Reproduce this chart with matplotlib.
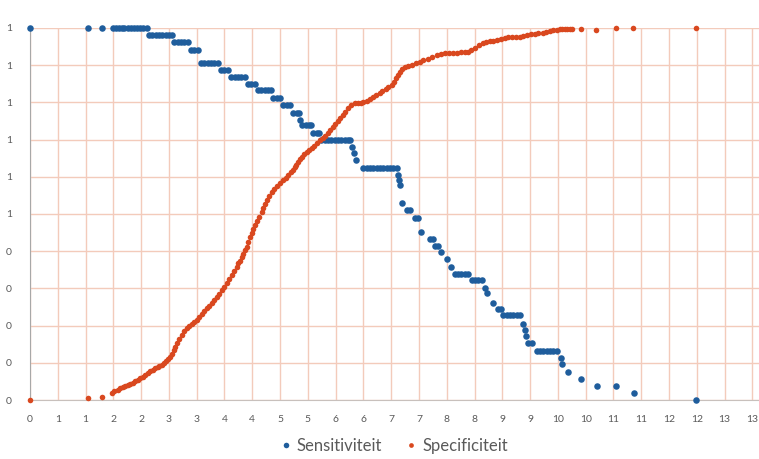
import math
import matplotlib
matplotlib.use("Agg")
import matplotlib.pyplot as plt
from matplotlib.ticker import MultipleLocator, FuncFormatter

# Sensitiviteit
sens_x = [0.0, 1.04, 1.29,
          1.49, 1.54, 1.60, 1.65, 1.70, 1.76, 1.82, 1.88, 1.93, 1.98, 2.04, 2.10,
          2.14, 2.20, 2.26, 2.32, 2.38, 2.44, 2.50, 2.56,
          2.60, 2.66, 2.72, 2.78, 2.84,
          2.90, 2.96, 3.02,
          3.08, 3.14, 3.20, 3.26, 3.32, 3.38,
          3.44, 3.50, 3.56,
          3.62, 3.68, 3.74, 3.80, 3.86,
          3.92, 3.98, 4.04,
          4.10, 4.16, 4.22, 4.28, 4.34,
          4.38, 4.44, 4.50,
          4.56, 4.62, 4.68,
          4.74, 4.80, 4.84,
          4.86,
          4.90, 4.96, 5.02, 5.06,
          5.10, 5.16, 5.20,
          5.24, 5.30, 5.36, 5.42, 5.48, 5.54, 5.60, 5.66, 5.72, 5.76,
          5.79, 5.83, 5.86,
          6.00, 6.06, 6.12, 6.18, 6.24, 6.30, 6.36, 6.42, 6.48, 6.54, 6.60,
          6.62, 6.64, 6.65, 6.69,
          6.78, 6.84, 6.92, 6.98, 7.03,
          7.19, 7.25, 7.29, 7.34, 7.39, 7.50, 7.57,
          7.64, 7.70, 7.76, 7.82, 7.88,
          7.95, 8.01, 8.07, 8.13,
          8.18, 8.22, 8.33, 8.42, 8.47,
          8.52, 8.58, 8.64, 8.70, 8.76, 8.81,
          8.88, 8.90, 8.92, 8.96, 9.03,
          9.12, 9.18, 9.24, 9.30, 9.36, 9.42, 9.48,
          9.55, 9.57, 9.68, 9.91, 10.20, 10.54, 10.86, 11.98]
sens_y = [1.0, 1.0, 1.0,
          1.0, 1.0, 1.0, 1.0, 1.0, 1.0, 1.0, 1.0, 1.0, 1.0, 1.0, 1.0,
          0.981, 0.981, 0.981, 0.981, 0.981, 0.981, 0.981, 0.981,
          0.962, 0.962, 0.962, 0.962, 0.962,
          0.941, 0.941, 0.941,
          0.906, 0.906, 0.906, 0.906, 0.906, 0.906,
          0.887, 0.887, 0.887,
          0.868, 0.868, 0.868, 0.868, 0.868,
          0.849, 0.849, 0.849,
          0.833, 0.833, 0.833, 0.833, 0.833,
          0.812, 0.812, 0.812,
          0.793, 0.793, 0.793,
          0.772, 0.772, 0.772,
          0.753,
          0.739, 0.739, 0.739, 0.739,
          0.718, 0.718, 0.718,
          0.699, 0.699, 0.699, 0.699, 0.699, 0.699, 0.699, 0.699, 0.699, 0.699,
          0.680, 0.664, 0.645,
          0.624, 0.624, 0.624, 0.624, 0.624, 0.624, 0.624, 0.624, 0.624, 0.624, 0.624,
          0.605, 0.591, 0.578, 0.530,
          0.511, 0.511, 0.489, 0.489, 0.452,
          0.433, 0.433, 0.414, 0.414, 0.398, 0.379, 0.358,
          0.339, 0.339, 0.339, 0.339, 0.339,
          0.323, 0.323, 0.323, 0.323,
          0.301, 0.288, 0.261, 0.245, 0.245,
          0.228, 0.228, 0.228, 0.228, 0.228, 0.228,
          0.204, 0.188, 0.172, 0.153, 0.153,
          0.132, 0.132, 0.132, 0.132, 0.132, 0.132, 0.132,
          0.113, 0.097, 0.075, 0.056, 0.038, 0.038, 0.019, 0.0]

# Specificiteit
spec_x = [0.00, 1.04, 1.29, 1.47, 1.52, 1.58, 1.62, 1.67, 1.71, 1.76, 1.80, 1.85,
          1.89, 1.94, 1.98, 2.03, 2.07, 2.12, 2.16, 2.21, 2.25, 2.30, 2.33, 2.37,
          2.41, 2.45, 2.48, 2.52, 2.55, 2.59, 2.61, 2.64, 2.68, 2.73, 2.77, 2.82,
          2.86, 2.91, 2.95, 3.00, 3.04, 3.09, 3.13, 3.18, 3.22, 3.27, 3.31, 3.36,
          3.40, 3.45, 3.49, 3.54, 3.58, 3.63, 3.67, 3.72, 3.75, 3.78, 3.81, 3.84,
          3.87, 3.90, 3.93, 3.96, 3.99, 4.02, 4.05, 4.08, 4.12, 4.17, 4.20, 4.23,
          4.26, 4.30, 4.35, 4.39, 4.44, 4.49, 4.55, 4.60, 4.64, 4.69, 4.73, 4.76,
          4.79, 4.82, 4.86, 4.89, 4.93, 4.98, 5.02, 5.07, 5.11, 5.16, 5.21, 5.27,
          5.31, 5.36, 5.40, 5.45, 5.49, 5.54, 5.58, 5.63, 5.67, 5.72, 5.78, 5.85,
          5.90, 5.95, 6.00, 6.06, 6.11, 6.17, 6.23, 6.29, 6.34, 6.40, 6.45, 6.51,
          6.55, 6.58, 6.62, 6.65, 6.69, 6.74, 6.80, 6.87, 6.94, 7.01, 7.08, 7.16,
          7.24, 7.32, 7.39, 7.46, 7.54, 7.61, 7.68, 7.75, 7.82, 7.88, 7.94, 8.00,
          8.08, 8.15, 8.21, 8.27, 8.33, 8.40, 8.47, 8.54, 8.60, 8.67, 8.74, 8.81,
          8.88, 8.94, 9.01, 9.08, 9.15, 9.23, 9.29, 9.35, 9.42, 9.48, 9.53, 9.57,
          9.62, 9.66, 9.71, 9.75, 9.91, 10.18, 10.54, 10.85, 11.98]
spec_y = [0.000, 0.005, 0.008, 0.019, 0.023, 0.027, 0.031, 0.035, 0.038, 0.040, 0.043, 0.046,
          0.050, 0.054, 0.058, 0.062, 0.067, 0.073, 0.077, 0.081, 0.085, 0.089, 0.091, 0.094,
          0.100, 0.105, 0.110, 0.116, 0.124, 0.134, 0.143, 0.153, 0.164, 0.175, 0.185, 0.194,
          0.199, 0.204, 0.209, 0.215, 0.223, 0.231, 0.239, 0.247, 0.254, 0.261, 0.269, 0.277,
          0.286, 0.296, 0.305, 0.315, 0.325, 0.336, 0.347, 0.358, 0.367, 0.375, 0.384, 0.393,
          0.402, 0.411, 0.424, 0.437, 0.449, 0.460, 0.471, 0.481, 0.493, 0.505, 0.516, 0.527,
          0.538, 0.549, 0.559, 0.567, 0.575, 0.583, 0.591, 0.598, 0.605, 0.612, 0.618, 0.625,
          0.633, 0.640, 0.647, 0.653, 0.660, 0.667, 0.672, 0.677, 0.684, 0.691, 0.698, 0.704,
          0.711, 0.718, 0.726, 0.734, 0.742, 0.750, 0.758, 0.766, 0.775, 0.785, 0.792, 0.798,
          0.798, 0.798, 0.801, 0.804, 0.810, 0.815, 0.820, 0.825, 0.831, 0.836, 0.841, 0.847,
          0.856, 0.866, 0.874, 0.882, 0.889, 0.895, 0.898, 0.901, 0.905, 0.909, 0.913, 0.917,
          0.922, 0.927, 0.930, 0.933, 0.933, 0.933, 0.934, 0.935, 0.935, 0.935, 0.940, 0.946,
          0.953, 0.960, 0.963, 0.965, 0.966, 0.968, 0.971, 0.973, 0.975, 0.976, 0.976, 0.976,
          0.979, 0.981, 0.983, 0.984, 0.986, 0.987, 0.990, 0.992, 0.994, 0.995, 0.996, 0.997,
          0.997, 0.997, 0.997, 0.997, 0.997, 0.995, 1.000, 1.000, 1.000]

blue = "#1f5d9c"
red = "#d9481f"
grid_col = "#f3cbbb"
text_col = "#5a5a5a"

plt.rcParams['font.family'] = ['Lato', 'DejaVu Sans']

fig = plt.figure(figsize=(7.59, 4.59), dpi=100)
# de grafiek is rechts afgesneden, dus de as loopt door tot buiten de figuur
ax = fig.add_axes([30 / 759, 59 / 459, 778 / 759, 372 / 459])

ax.set_xlim(0, 14)
ax.set_ylim(0, 1)
ax.xaxis.set_major_locator(MultipleLocator(0.5))
ax.yaxis.set_major_locator(MultipleLocator(0.1))


def excel_round(v, pos):
    # Excel rondt .5 naar boven af; labels voorbij de rand weglaten
    if v > 13.01:
        return ''
    return str(int(math.floor(v + 0.5 + 1e-9)))


ax.xaxis.set_major_formatter(FuncFormatter(excel_round))
ax.yaxis.set_major_formatter(FuncFormatter(excel_round))

ax.grid(True, color=grid_col, linewidth=1.0)
ax.set_axisbelow(True)
for side in ['top', 'right']:
    ax.spines[side].set_visible(False)
ax.spines['bottom'].set_color("#c8c0bc")
ax.spines['left'].set_color("#a8a8a8")
ax.tick_params(length=0, labelsize=7.5, colors=text_col)
ax.tick_params(axis='x', pad=11)
ax.tick_params(axis='y', pad=13)

ax.plot(sens_x, sens_y, 'o', color=blue, markersize=4.7, markeredgewidth=0,
        label='Sensitiviteit', clip_on=False, zorder=3)
ax.plot(spec_x, spec_y, 'o', color=red, markersize=4.0, markeredgewidth=0,
        label='Specificiteit', clip_on=False, zorder=4)

fig.legend(loc='center', bbox_to_anchor=(393 / 759, 1 - 446 / 459), ncol=2,
           frameon=False, fontsize=12, labelcolor=text_col, handletextpad=0.2,
           columnspacing=1.3, handlelength=0.9, markerscale=0.85)

fig.savefig('out.png', dpi=100, facecolor='white')
